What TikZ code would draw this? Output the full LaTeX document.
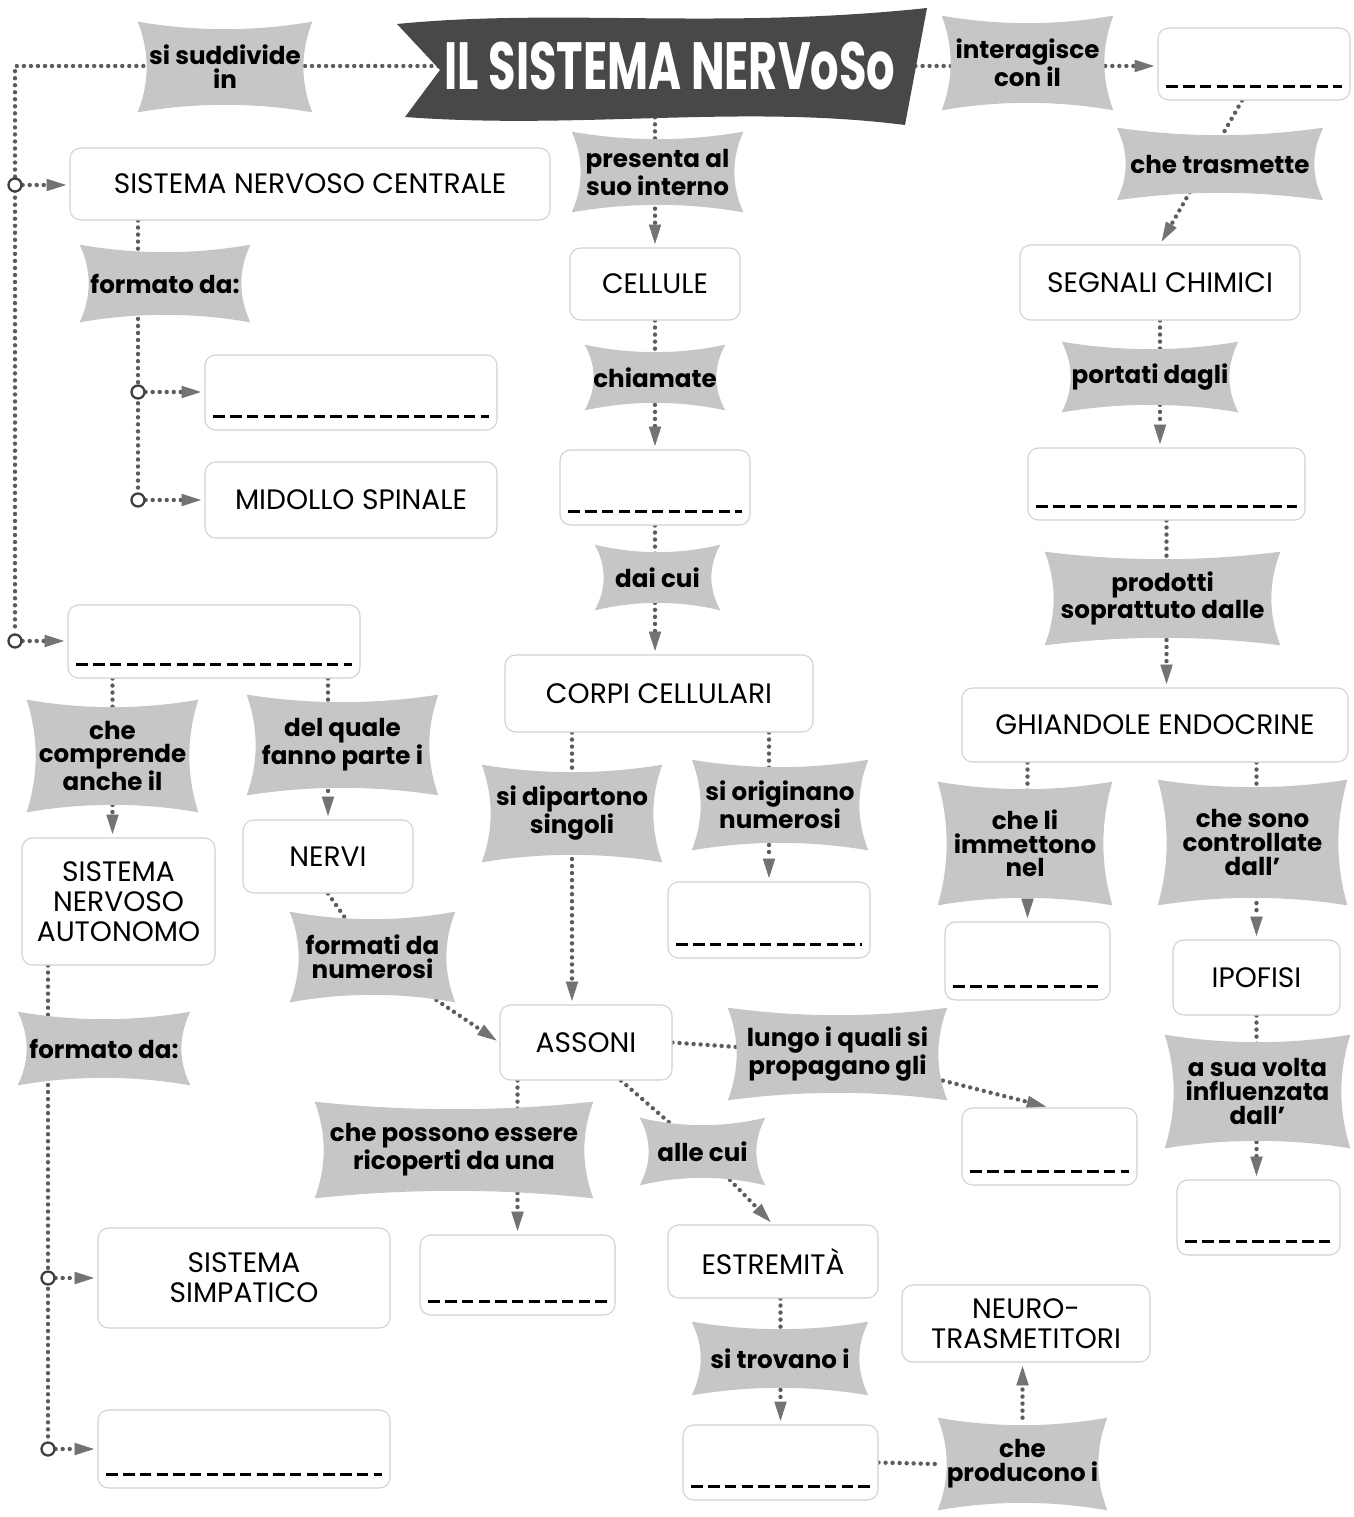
\documentclass[tikz,border=0pt]{standalone}
\usepackage{fontspec}
\setmainfont{Poppins}
\newfontfamily\boxfont{Poppins}
\newfontfamily\titlefont[FakeStretch=0.67]{Poppins}
\usetikzlibrary{arrows.meta,positioning,fit,calc}
\definecolor{bowgray}{HTML}{C6C6C6}
\definecolor{dotgray}{HTML}{5C5C5C}
\definecolor{bannergray}{HTML}{484848}
\pgfdeclarelayer{lines}
\pgfdeclarelayer{bows}
\pgfsetlayers{lines,bows,main}

\begin{document}
\begin{tikzpicture}[
  x=0.02cm, y=-0.02cm,
  boxtext/.style={align=center, inner sep=0pt, font=\boxfont\fontsize{16}{17}\selectfont},
  lbltext/.style={align=center, inner sep=0pt, font=\bfseries\fontsize{14}{13.5}\selectfont},
  box/.style={draw=black!18, line width=0.6pt, fill=white, rounded corners=6pt,
              inner sep=0pt, label={[boxtext]center:#1}},
  box/.default={},
  lbl/.style={inner sep=0pt, label={[lbltext]center:#1}},
  joint/.style={circle, draw=black!75, line width=1.3pt, fill=white,
                minimum size=0.26cm, inner sep=0pt},
  dots/.style={draw=dotgray, line width=2.5pt, line cap=round, dash pattern=on 0pt off 4pt},
  link/.style={dots, shorten >=2pt,
               -{Triangle[length=11pt, width=7pt, line width=0.4pt, color=black!55, fill=black!55]}},
  blank/.style={line width=2.2pt, dash pattern=on 6.5pt off 3pt},
  bowfill/.style={fill=bowgray}
]
\useasboundingbox (0,0) rectangle (1353,1517);

\node[font=\titlefont\bfseries\fontsize{38}{38}\selectfont, text=white] (title) at (670,66) {IL SISTEMA NERVoSo};

% boxes
\node[box={SISTEMA NERVOSO CENTRALE}, fit={(70,148)(550,220)}] (snc) {};
\node[box, fit={(205,355)(497,430)}] (bl1) {};
\node[box={MIDOLLO SPINALE}, fit={(205,462)(497,538)}] (midollo) {};
\node[box, fit={(68,605)(360,678)}] (bl2) {};
\node[box={SISTEMA\\NERVOSO\\AUTONOMO}, fit={(22,838)(215,965)}] (sna) {};
\node[box={NERVI}, fit={(243,820)(413,893)}] (nervi) {};
\node[box={SISTEMA\\SIMPATICO}, fit={(98,1228)(390,1328)}] (simpatico) {};
\node[box, fit={(98,1410)(390,1488)}] (bl3) {};
\node[box={CELLULE}, fit={(570,248)(740,320)}] (cellule) {};
\node[box, fit={(560,450)(750,525)}] (bl4) {};
\node[box={CORPI CELLULARI}, fit={(505,655)(813,732)}] (corpi) {};
\node[box, fit={(668,882)(870,958)}] (bl5) {};
\node[box={ASSONI}, fit={(500,1005)(672,1080)}] (assoni) {};
\node[box, fit={(962,1108)(1137,1185)}] (bl6) {};
\node[box, fit={(420,1235)(615,1315)}] (bl7) {};
\node[box={ESTREMITÀ}, fit={(668,1225)(878,1298)}] (estrem) {};
\node[box, fit={(683,1425)(878,1500)}] (bl8) {};
\node[box={NEURO-\\TRASMETITORI}, fit={(902,1285)(1150,1362)}] (neuro) {};
\node[box, fit={(1158,28)(1350,100)}] (bl9) {};
\node[box={SEGNALI CHIMICI}, fit={(1020,245)(1300,320)}] (segnali) {};
\node[box, fit={(1028,448)(1305,520)}] (bl10) {};
\node[box={GHIANDOLE ENDOCRINE}, fit={(962,688)(1348,762)}] (ghiandole) {};
\node[box, fit={(945,922)(1110,1000)}] (bl11) {};
\node[box={IPOFISI}, fit={(1173,940)(1340,1015)}] (ipofisi) {};
\node[box, fit={(1177,1180)(1340,1255)}] (bl12) {};

% linking words
\node[lbl={si suddivide\\in}, fit={(138,22)(312,112)}] (suddiv) {};
\node[lbl={presenta al\\suo interno}, fit={(572,132)(743,212)}] (presenta) {};
\node[lbl={chiamate}, fit={(585,345)(725,410)}] (chiamate) {};
\node[lbl={dai cui}, fit={(595,545)(720,610)}] (daicui) {};
\node[lbl={interagisce\\con il}, fit={(942,16)(1113,110)}] (interag) {};
\node[lbl={che trasmette}, fit={(1117,128)(1323,200)}] (trasmette) {};
\node[lbl={portati dagli}, fit={(1062,342)(1238,412)}] (portati) {};
\node[lbl={prodotti\\soprattuto dalle}, fit={(1045,552)(1280,645)}] (prodotti) {};
\node[lbl={formato da:}, fit={(80,245)(250,322)}] (formatoA) {};
\node[lbl={che\\comprende\\anche il}, fit={(27,700)(198,812)}] (comprende) {};
\node[lbl={del quale\\fanno parte i}, fit={(247,695)(438,795)}] (delquale) {};
\node[lbl={formati da\\numerosi}, fit={(290,912)(455,1002)}] (formati) {};
\node[lbl={formato da:}, fit={(18,1012)(190,1085)}] (formatoB) {};
\node[lbl={si dipartono\\singoli}, fit={(482,765)(662,862)}] (dipartono) {};
\node[lbl={si originano\\numerosi}, fit={(692,760)(868,850)}] (originano) {};
\node[lbl={lungo i quali si\\propagano gli}, fit={(728,1008)(947,1100)}] (lungo) {};
\node[lbl={che possono essere\\ricoperti da una}, fit={(315,1102)(593,1198)}] (ricoperti) {};
\node[lbl={alle cui}, fit={(640,1118)(765,1185)}] (allecui) {};
\node[lbl={si trovano i}, fit={(692,1322)(868,1395)}] (trovano) {};
\node[lbl={che\\producono i}, fit={(938,1418)(1107,1510)}] (producono) {};
\node[lbl={che li\\immettono\\nel}, fit={(938,782)(1112,905)}] (immettono) {};
\node[lbl={che sono\\controllate\\dall’}, fit={(1158,780)(1347,905)}] (controllate) {};
\node[lbl={a sua volta\\influenzata\\dall’}, fit={(1165,1035)(1350,1148)}] (influenzata) {};

\node[joint] (j1) at (15,185) {};
\node[joint] (j2) at (15,641) {};
\node[joint] (j3) at (138,392) {};
\node[joint] (j4) at (138,500) {};
\node[joint] (j5) at (48,1278) {};
\node[joint] (j6) at (48,1449) {};
\coordinate (corner) at (15,66);

\foreach \n in {bl1,bl2,bl3,bl4,bl5,bl6,bl7,bl8,bl9,bl10,bl11,bl12}
  \draw[blank] ($(\n.south west)+(9,-14)$) -- ($(\n.south east)+(-9,-14)$);

\begin{pgfonlayer}{bows}
  \fill[bannergray] (397,24) .. controls (560,8) and (720,30) .. (927,8)
    -- (905,125) .. controls (740,104) and (580,130) .. (405,117) -- (440,70) -- cycle;
  \foreach \n in {suddiv,presenta,chiamate,daicui,interag,trasmette,portati,prodotti,
                  formatoA,comprende,delquale,formati,formatoB,dipartono,originano,lungo,
                  ricoperti,allecui,trovano,producono,immettono,controllate,influenzata}
    \fill[bowfill] (\n.north west)
      .. controls ($(\n.north west)!.33!(\n.north east)+(0,10)$) and ($(\n.north west)!.67!(\n.north east)+(0,10)$) .. (\n.north east)
      .. controls ($(\n.north east)!.33!(\n.south east)+(-12,0)$) and ($(\n.north east)!.67!(\n.south east)+(-12,0)$) .. (\n.south east)
      .. controls ($(\n.south east)!.33!(\n.south west)+(0,-10)$) and ($(\n.south east)!.67!(\n.south west)+(0,-10)$) .. (\n.south west)
      .. controls ($(\n.south west)!.33!(\n.north west)+(12,0)$) and ($(\n.south west)!.67!(\n.north west)+(12,0)$) .. cycle;
\end{pgfonlayer}

\begin{pgfonlayer}{lines}
  \draw[dots] (title.west) -- (corner) -- (j2);
  \draw[link] (j1) -- (j1 -| snc.west);
  \draw[link] (j2) -- (j2 -| bl2.west);
  \draw[dots] (snc.south -| j3) -- (j4);
  \draw[link] (j3) -- (j3 -| bl1.west);
  \draw[link] (j4) -- (j4 -| midollo.west);
  \draw[link] (bl2.south -| comprende) -- (sna.north -| comprende);
  \draw[link] (bl2.south -| nervi) -- (nervi.north);
  \draw[link] (nervi.south) -- (formati.center) -- (assoni.west);
  \draw[dots] (sna.south -| j5) -- (j6);
  \draw[link] (j5) -- (j5 -| simpatico.west);
  \draw[link] (j6) -- (j6 -| bl3.west);
  \draw[link] (title.south -| cellule) -- (cellule.north);
  \draw[link] (cellule.south) -- (cellule.south |- bl4.north);
  \draw[link] (bl4.south) -- (bl4.south |- corpi.north);
  \draw[link] (corpi.south -| dipartono) -- (assoni.north -| dipartono);
  \draw[link] (corpi.south -| bl5) -- (bl5.north);
  \draw[link] (assoni.east) -- (lungo.center) -- (bl6.north);
  \draw[link] (assoni.south -| bl7) -- (bl7.north);
  \draw[link] ($(assoni.south)+(35,0)$) -- (allecui.center) -- (estrem.north);
  \draw[link] (estrem.south -| bl8) -- (bl8.north);
  \draw[dots] (bl8.east) -- (producono.west);
  \draw[link] (producono.north) -- (producono.north |- neuro.south);
  \draw[link] (title.east) -- (title.east -| bl9.west);
  \draw[link] ($(bl9.south)+(-12,0)$) -- (segnali.north);
  \draw[link] (segnali.south) -- (segnali.south |- bl10.north);
  \draw[link] (bl10.south) -- (bl10.south |- ghiandole.north);
  \draw[link] (ghiandole.south -| bl11) -- (bl11.north);
  \draw[link] (ghiandole.south -| ipofisi) -- (ipofisi.north);
  \draw[link] (ipofisi.south) -- (ipofisi.south |- bl12.north);
\end{pgfonlayer}

\end{tikzpicture}
\end{document}
